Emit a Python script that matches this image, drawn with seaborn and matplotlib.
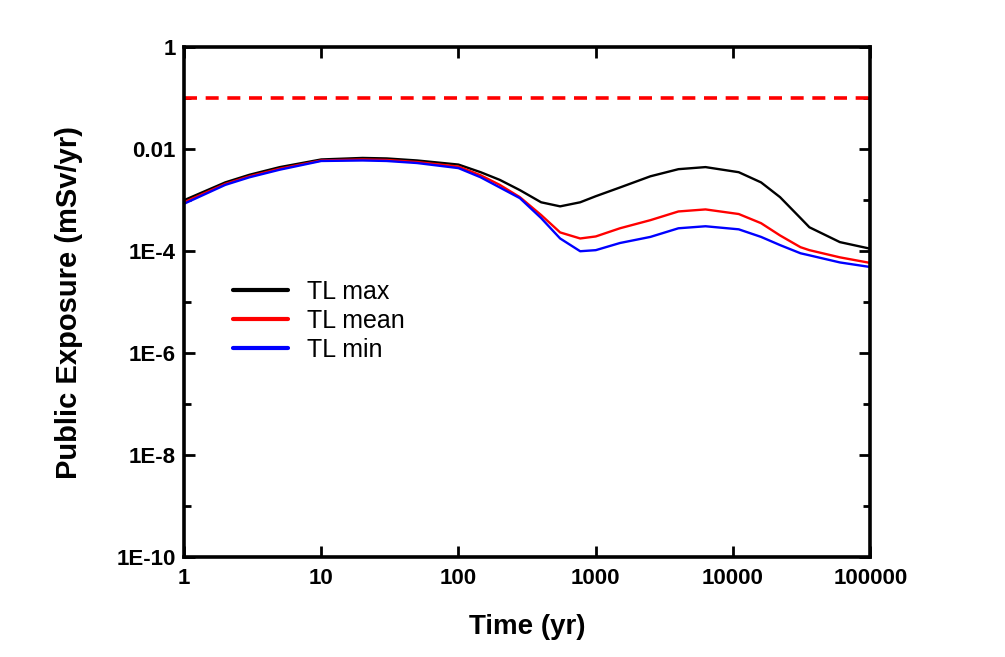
import numpy as np
import pandas as pd
import matplotlib
matplotlib.use("Agg")
import matplotlib.pyplot as plt
import seaborn as sns
from matplotlib.ticker import FixedLocator, NullLocator, NullFormatter

# ---- data ----
time_yr = [1, 2, 3, 5, 10, 20, 30, 50, 100, 145, 200, 280, 400, 550, 770,
           1000, 1500, 2500, 4000, 6300, 11000, 16000, 22000, 31000, 36000,
           60000, 100000]
tl_max = [1.0e-3, 2.24e-3, 3.16e-3, 4.47e-3, 6.31e-3, 6.76e-3, 6.61e-3,
          6.03e-3, 5.01e-3, 3.55e-3, 2.51e-3, 1.58e-3, 9.12e-4, 7.59e-4,
          9.12e-4, 1.20e-3, 1.78e-3, 2.95e-3, 4.07e-3, 4.47e-3, 3.55e-3,
          2.24e-3, 1.15e-3, 4.47e-4, 2.95e-4, 1.51e-4, 1.12e-4]
tl_mean = [9.12e-4, 2.09e-3, 2.95e-3, 4.17e-3, 6.03e-3, 6.31e-3, 6.17e-3,
           5.62e-3, 4.57e-3, 3.09e-3, 2.0e-3, 1.15e-3, 5.13e-4, 2.34e-4,
           1.78e-4, 1.95e-4, 2.82e-4, 4.07e-4, 6.03e-4, 6.61e-4, 5.37e-4,
           3.55e-4, 2.04e-4, 1.20e-4, 1.05e-4, 7.59e-5, 5.89e-5]
tl_min = [8.51e-4, 2.0e-3, 2.82e-3, 3.98e-3, 5.89e-3, 6.03e-3, 5.89e-3,
          5.37e-3, 4.27e-3, 2.82e-3, 1.78e-3, 1.10e-3, 4.47e-4, 1.78e-4,
          1.0e-4, 1.05e-4, 1.45e-4, 1.91e-4, 2.82e-4, 3.09e-4, 2.69e-4,
          1.91e-4, 1.32e-4, 9.12e-5, 8.32e-5, 6.03e-5, 4.90e-5]
limit_value = 0.1
series_names = ["TL max", "TL mean", "TL min"]
x_ticks = [1, 10, 100, 1000, 10000, 100000]
x_tick_labels = ["1", "10", "100", "1000", "10000", "100000"]
y_ticks = [1, 1e-2, 1e-4, 1e-6, 1e-8, 1e-10]
y_tick_labels = ["1", "0.01", "1E-4", "1E-6", "1E-8", "1E-10"]
y_minor = [1e-1, 1e-3, 1e-5, 1e-7, 1e-9]

df = pd.DataFrame({
    "Time": time_yr * 3,
    "Exposure": tl_max + tl_mean + tl_min,
    "Series": sum([[n] * len(time_yr) for n in series_names], []),
})

sns.set_style("ticks")
plt.rcParams["font.family"] = ["Liberation Sans", "DejaVu Sans"]
plt.rcParams["text.color"] = "black"
plt.rcParams["axes.labelcolor"] = "black"
plt.rcParams["xtick.color"] = "black"
plt.rcParams["ytick.color"] = "black"
plt.rcParams["axes.edgecolor"] = "black"

fig = plt.figure(figsize=(10.05, 6.57), dpi=100)
ax = fig.add_axes([0.183, 0.152, 0.683, 0.776])

palette = {"TL max": "#000000", "TL mean": "#ff0000", "TL min": "#0000ff"}
sns.lineplot(data=df, x="Time", y="Exposure", hue="Series", palette=palette,
             hue_order=series_names, linewidth=1.7, ax=ax, legend=True)
ax.axhline(limit_value, color="#ff0000", linewidth=2.6, linestyle=(0, (3.6, 2.4)))

ax.set_xscale("log")
ax.set_yscale("log")
ax.set_xlim(1, 100000)
ax.set_ylim(1e-10, 1)

ax.xaxis.set_major_locator(FixedLocator(x_ticks))
ax.xaxis.set_minor_locator(NullLocator())
ax.set_xticklabels(x_tick_labels)
ax.yaxis.set_major_locator(FixedLocator(y_ticks))
ax.yaxis.set_minor_locator(FixedLocator(y_minor))
ax.yaxis.set_minor_formatter(NullFormatter())
ax.set_yticklabels(y_tick_labels)

ax.tick_params(axis="x", which="major", direction="in", length=8, width=2,
               top=True, labelsize=16, pad=8)
ax.tick_params(axis="y", which="major", direction="in", length=8, width=2,
               right=True, labelsize=16, pad=6)
ax.tick_params(axis="both", which="minor", direction="in", length=5, width=2,
               top=True, right=True)
for lab in ax.get_xticklabels() + ax.get_yticklabels():
    lab.set_fontweight("bold")
for sp in ax.spines.values():
    sp.set_visible(True)
    sp.set_linewidth(2.6)
    sp.set_color("black")

ax.set_xlabel("Time (yr)", fontsize=20, fontweight="bold", labelpad=18)
ax.set_ylabel("Public Exposure (mSv/yr)", fontsize=21, fontweight="bold", labelpad=24)

leg = ax.legend(loc="upper left", bbox_to_anchor=(0.232, 0.574),
                bbox_transform=fig.transFigure, frameon=False, fontsize=18,
                handlelength=2.2, handletextpad=0.75, labelspacing=0.2,
                borderpad=0.0, borderaxespad=0.0)
for line in leg.get_lines():
    line.set_linewidth(3)

fig.savefig("out.png", dpi=100)
